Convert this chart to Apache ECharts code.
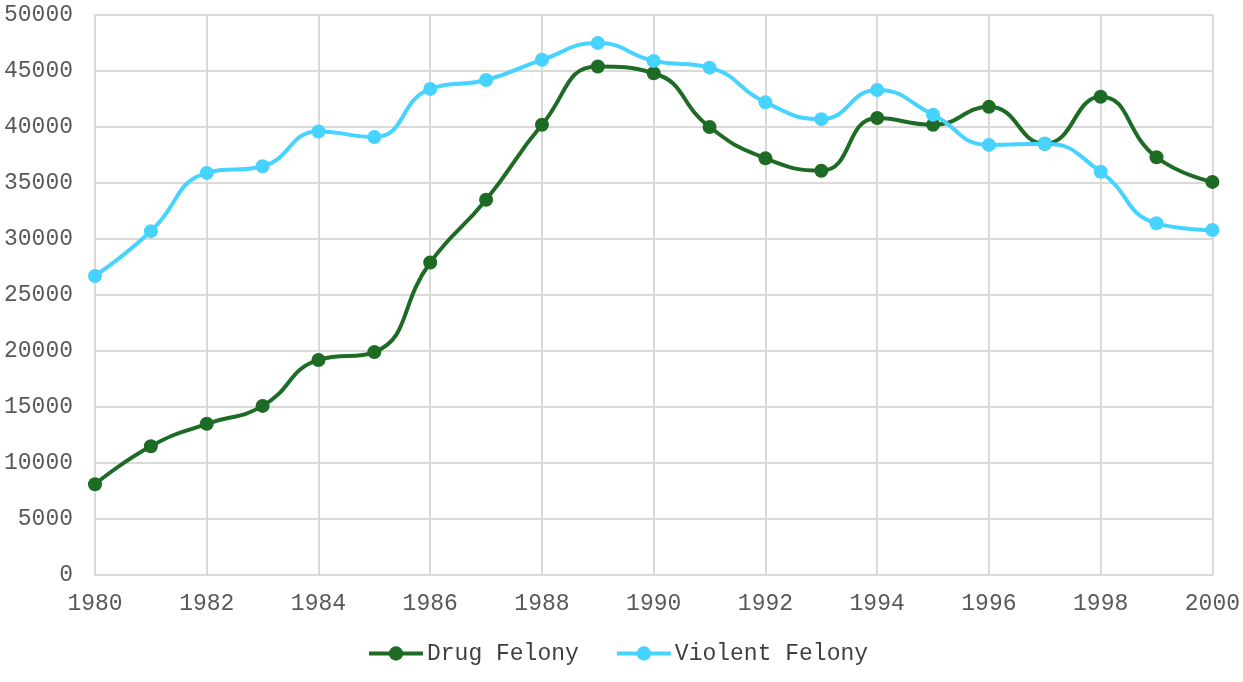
<!DOCTYPE html>
<html>
<head>
<meta charset="utf-8">
<script src="https://cdn.jsdelivr.net/npm/echarts@6/dist/echarts.min.js"></script>
<style>
  html, body { margin: 0; padding: 0; background: #fff; }
  #chart { width: 1243px; height: 682px; }
</style>
</head>
<body>
<div id="chart"></div>
<script>
// data
var years = [1980, 1981, 1982, 1983, 1984, 1985, 1986, 1987, 1988, 1989, 1990,
             1991, 1992, 1993, 1994, 1995, 1996, 1997, 1998, 1999, 2000];
var drugFelony = [8100, 11500, 13500, 15100, 19200, 19900, 27900, 33500, 40200, 45400, 44800,
                  40000, 37200, 36100, 40800, 40200, 41800, 38500, 42700, 37300, 35100];
var violentFelony = [26700, 30700, 35900, 36500, 39600, 39100, 43400, 44200, 46000, 47500, 45900,
                     45300, 42200, 40700, 43300, 41100, 38400, 38500, 36000, 31400, 30800];
var seriesNames = ['Drug Felony', 'Violent Felony'];
var seriesColors = ['#1e6b26', '#47d3ff'];

function pairs(vals) {
    return years.map(function (y, i) { return [y, vals[i]]; });
}

var myChart = echarts.init(document.getElementById('chart'));
var font = '"Liberation Mono", "Courier New", monospace';
var gridColor = '#d9d9d9';

var option = {
    backgroundColor: '#fff',
    animation: false,
    textStyle: { fontFamily: font },
    grid: { left: 95, right: 30, top: 15, bottom: 107 },
    legend: {
        bottom: 12,
        left: 362,
        itemWidth: 54,
        itemHeight: 18,
        itemGap: 36,
        textStyle: { fontFamily: font, fontSize: 23, color: '#404040', padding: [0, 0, 0, -1] },
        data: seriesNames.map(function (n, i) {
            return { name: n, lineStyle: { width: 4, color: seriesColors[i] } };
        })
    },
    xAxis: {
        type: 'value',
        min: 1980,
        max: 2000,
        interval: 2,
        axisLine: { show: true, lineStyle: { color: gridColor, width: 2 } },
        axisTick: { show: false },
        splitLine: { show: true, lineStyle: { color: gridColor, width: 2 } },
        axisLabel: {
            color: '#595959', fontSize: 23, fontFamily: font, margin: 17,
            formatter: function (v) { return String(v); }
        }
    },
    yAxis: {
        type: 'value',
        min: 0,
        max: 50000,
        interval: 5000,
        axisLine: { show: true, lineStyle: { color: gridColor, width: 2 } },
        axisTick: { show: false },
        splitLine: { show: true, lineStyle: { color: gridColor, width: 2 } },
        axisLabel: {
            color: '#595959', fontSize: 23, fontFamily: font, margin: 22,
            formatter: function (v) { return String(v); }
        }
    },
    series: [
        {
            name: seriesNames[0],
            type: 'line',
            smooth: 0.5,
            symbol: 'circle',
            symbolSize: 14,
            lineStyle: { width: 4, color: seriesColors[0] },
            itemStyle: { color: seriesColors[0] },
            data: pairs(drugFelony)
        },
        {
            name: seriesNames[1],
            type: 'line',
            smooth: 0.5,
            symbol: 'circle',
            symbolSize: 14,
            lineStyle: { width: 4, color: seriesColors[1] },
            itemStyle: { color: seriesColors[1] },
            data: pairs(violentFelony)
        }
    ]
};

myChart.setOption(option);
</script>
</body>
</html>
